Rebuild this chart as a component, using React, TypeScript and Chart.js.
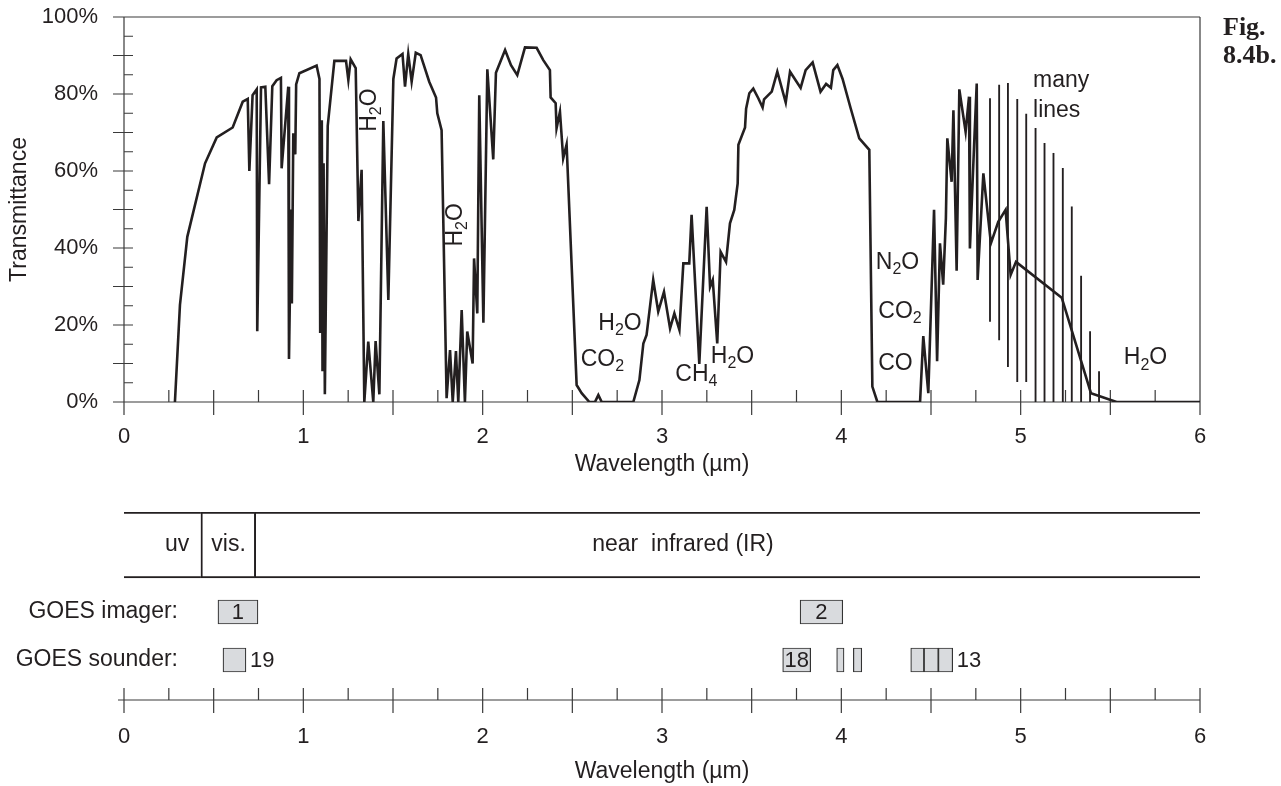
import React, { useEffect, useRef } from 'react';
import { Chart, registerables } from 'chart.js';

Chart.register(...registerables);

// ---------------- data ----------------
const WAVELENGTH_UM = [
  0.284, 0.312, 0.353, 0.452, 0.517, 0.606, 0.662, 0.69, 0.699, 0.717, 0.74, 0.743, 0.764, 0.788, 0.809, 0.827,
  0.851, 0.875, 0.879, 0.916, 0.92, 0.932, 0.936, 0.944, 0.955, 0.96, 0.978, 1.074, 1.09, 1.094, 1.103, 1.107,
  1.113, 1.12, 1.136, 1.173, 1.238, 1.251, 1.264, 1.292, 1.307, 1.325, 1.34, 1.362, 1.39, 1.403, 1.424, 1.446,
  1.474, 1.502, 1.52, 1.553, 1.567, 1.585, 1.604, 1.627, 1.654, 1.702, 1.74, 1.747, 1.771, 1.799, 1.818, 1.833,
  1.851, 1.864, 1.883, 1.901, 1.914, 1.944, 1.952, 1.97, 1.981, 2.004, 2.026, 2.059, 2.074, 2.125, 2.158, 2.193,
  2.236, 2.301, 2.338, 2.375, 2.379, 2.407, 2.412, 2.431, 2.449, 2.468, 2.524, 2.552, 2.595, 2.626, 2.645, 2.664,
  2.84, 2.874, 2.896, 2.914, 2.951, 2.979, 3.011, 3.045, 3.069, 3.097, 3.119, 3.152, 3.165, 3.208, 3.249, 3.268,
  3.283, 3.308, 3.327, 3.357, 3.379, 3.403, 3.422, 3.426, 3.463, 3.469, 3.487, 3.509, 3.537, 3.561, 3.569, 3.612,
  3.643, 3.69, 3.714, 3.773, 3.801, 3.84, 3.884, 3.915, 3.942, 3.955, 3.978, 4.007, 4.052, 4.1, 4.156, 4.173,
  4.201, 4.439, 4.457, 4.485, 4.517, 4.534, 4.55, 4.568, 4.583, 4.591, 4.615, 4.625, 4.643, 4.658, 4.693, 4.712,
  4.717, 4.74, 4.755, 4.76, 4.792, 4.834, 4.875, 4.916, 4.944, 4.974, 5.229, 5.392, 5.535, 6.0,
];
const TRANSMITTANCE_PCT = [
  0, 25.2, 42.9, 62, 68.7, 71.3, 78, 78.7, 60, 79.7, 81.2, 18.4, 81.7, 81.9, 56.6, 82,
  83.6, 84.2, 60.7, 81.9, 11.2, 50, 25.6, 69.8, 64.3, 82.5, 85.4, 87.4, 83.9, 17.9, 73.2, 8,
  62, 2, 71.7, 88.6, 88.6, 83.6, 89, 86.7, 47, 60.3, 0, 15.7, 0, 15.8, 2, 73,
  26.5, 83.9, 89.2, 90.4, 81.9, 90.4, 83.2, 90.7, 90.1, 83.2, 79.1, 75, 70.6, 1, 13.5, 0,
  13.2, 0, 23.9, 0, 18.3, 10, 37.3, 23, 79.7, 20.6, 86.4, 63, 85.5, 91.4, 87.5, 84.9,
  92.1, 92, 88.8, 86.2, 79.1, 77.6, 71.1, 75.4, 63.3, 66.9, 4.4, 2.3, 0, 0, 1.8, 0,
  0, 5.7, 15.2, 17.4, 31.7, 23.5, 28.6, 19.1, 23, 18.7, 36, 36, 48.6, 9.9, 50.7, 29.9,
  31.7, 15.2, 39, 36.4, 46.4, 49.9, 56.8, 66.8, 71.3, 76.2, 80.2, 81.4, 78.9, 76.5, 78.6, 80.6,
  85.8, 77.8, 85.8, 81.6, 86.2, 88.2, 80.6, 82.6, 81.6, 86.2, 87.5, 83.9, 76.3, 68.5, 65.5, 4,
  0, 0, 17.1, 2.3, 49.9, 10.6, 41.2, 30.5, 47.7, 68.5, 57.2, 75.8, 34.1, 81.2, 70.2, 79.3,
  39.9, 66.3, 82.7, 31.7, 59.4, 41.2, 46.8, 49.9, 33, 36.4, 27.1, 2.3, 0, 0,
];

// "many lines" absorption lines (thin vertical bars)
const LINE_UM = [4.829, 4.88, 4.929, 4.981, 5.031, 5.083, 5.133, 5.183, 5.235, 5.285, 5.337, 5.387, 5.437];
const LINE_TOP_PCT = [78.8, 82.3, 82.8, 78.6, 74.8, 71.1, 67.2, 64.6, 60.7, 50.7, 32.7, 18.3, 7.9];
const LINE_BOTTOM_PCT = [20.9, 16.1, 9.2, 5.3, 5.3, 0, 0, 0, 0, 0, 0, 0, 0];

const X_TICK_LABELS = ['0', '1', '2', '3', '4', '5', '6'];
const Y_TICK_LABELS = ['0%', '20%', '40%', '60%', '80%', '100%'];

// absorber labels ("_" marks a subscript digit)
const ABSORBER_TEXT = ['H_2O', 'H_2O', 'H_2O', 'CO_2', 'CH_4', 'H_2O', 'N_2O', 'CO_2', 'CO', 'H_2O'];
const ABSORBER_UM = [1.372, 1.849, 2.766, 2.668, 3.192, 3.393, 4.313, 4.327, 4.302, 5.696];
const ABSORBER_PCT = [75.8, 46, 20.4, 10.9, 7, 11.8, 36.1, 23.5, 10, 11.4];
const ABSORBER_VERTICAL = [true, true, false, false, false, false, false, false, false, false];

const NOTE_TEXT = ['many', 'lines'];
const NOTE_UM = [5.069, 5.069];
const NOTE_PCT = [83.5, 75.7];

const BAND_NAMES = ['uv', 'vis.', 'near  infrared (IR)'];
const BAND_FROM_UM = [0, 0.429, 0.727];
const BAND_TO_UM = [0.429, 0.727, 6];
const BAND_LABEL_UM = [0.296, 0.583, 3.117];

const ROW_LABELS = ['GOES imager:', 'GOES sounder:'];
const IMAGER_CHANNELS = ['1', '2'];
const IMAGER_FROM_UM = [0.524, 3.77];
const IMAGER_TO_UM = [0.747, 4.008];
const SOUNDER_CHANNELS = ['19', '18', '', '', '', '', '13'];
const SOUNDER_FROM_UM = [0.552, 3.673, 3.974, 4.067, 4.387, 4.461, 4.541];
const SOUNDER_TO_UM = [0.68, 3.829, 4.015, 4.114, 4.461, 4.541, 4.621];

// ---------------- layout / style ----------------
const INK = '#231f20';
const AXIS = '#3a3a3a';
const BOX_FILL = '#d9dbde';
const SANS = '"Liberation Sans", Arial, Helvetica, sans-serif';
const SERIF = '"Liberation Serif", "Times New Roman", serif';
const W = 1281;
const TOP_H = 490;
const BOTTOM_H = 296;
const ROW_POS = { bands: 33, imager: 100, sounder: 148 }; // px offsets below band-row top
const ROW_LABEL_RIGHT = 178;
const LABEL_SIZE = 23;
const TICK_SIZE = 22;

function drawChem(ctx: CanvasRenderingContext2D, text: string, x: number, y: number, align: 'center' | 'left', vertical: boolean) {
  const parts: { s: string; sub: boolean }[] = [];
  for (let i = 0; i < text.length; i++) {
    if (text[i] === '_' && i + 1 < text.length) {
      parts.push({ s: text[i + 1], sub: true });
      i++;
    } else {
      const last = parts[parts.length - 1];
      if (last && !last.sub) last.s += text[i];
      else parts.push({ s: text[i], sub: false });
    }
  }
  const main = `${LABEL_SIZE}px ${SANS}`;
  const sub = `16px ${SANS}`;
  ctx.save();
  ctx.translate(x, y);
  if (vertical) ctx.rotate(-Math.PI / 2);
  ctx.textBaseline = 'middle';
  ctx.textAlign = 'left';
  ctx.fillStyle = INK;
  let w = 0;
  for (const p of parts) {
    ctx.font = p.sub ? sub : main;
    w += ctx.measureText(p.s).width;
  }
  let cx = align === 'center' ? -w / 2 : 0;
  for (const p of parts) {
    ctx.font = p.sub ? sub : main;
    ctx.fillText(p.s, cx, p.sub ? 7 : 0);
    cx += ctx.measureText(p.s).width;
  }
  ctx.restore();
}

function drawAxisTicks(ctx: CanvasRenderingContext2D, xs: any, yLine: number, left: number, right: number) {
  for (let i = 0; i <= 24; i++) {
    const px = xs.getPixelForValue(i * 0.25);
    ctx.moveTo(px, yLine - 12);
    ctx.lineTo(px, i % 2 === 0 ? yLine + 13 : yLine);
  }
  ctx.moveTo(left, yLine);
  ctx.lineTo(right, yLine);
}

const topFrame = {
  id: 'topFrame',
  beforeDatasetsDraw(chart: any) {
    const { ctx, chartArea: a, scales } = chart;
    const xs = scales.x;
    const ys = scales.y;
    ctx.save();
    ctx.strokeStyle = AXIS;
    ctx.lineWidth = 1.2;
    ctx.beginPath();
    ctx.moveTo(a.left, a.top);
    ctx.lineTo(a.right, a.top);
    ctx.moveTo(a.left, a.top);
    ctx.lineTo(a.left, a.bottom + 13);
    ctx.moveTo(a.right, a.top);
    ctx.lineTo(a.right, a.bottom + 13);
    drawAxisTicks(ctx, xs, a.bottom, a.left, a.right);
    for (let i = 0; i <= 20; i++) {
      const py = ys.getPixelForValue(i * 5);
      ctx.moveTo(i % 2 === 0 ? a.left - 11 : a.left, py);
      ctx.lineTo(a.left + 9, py);
    }
    ctx.stroke();
    ctx.restore();
  },
  afterDraw(chart: any) {
    const { ctx, scales } = chart;
    const xs = scales.x;
    const ys = scales.y;
    ABSORBER_TEXT.forEach((t, i) => {
      drawChem(ctx, t, xs.getPixelForValue(ABSORBER_UM[i]), ys.getPixelForValue(ABSORBER_PCT[i]), 'center', ABSORBER_VERTICAL[i]);
    });
    ctx.save();
    ctx.fillStyle = INK;
    ctx.font = `${LABEL_SIZE}px ${SANS}`;
    ctx.textBaseline = 'middle';
    ctx.textAlign = 'left';
    NOTE_TEXT.forEach((t, i) => {
      ctx.fillText(t, xs.getPixelForValue(NOTE_UM[i]), ys.getPixelForValue(NOTE_PCT[i]));
    });
    ctx.font = `bold 26px ${SERIF}`;
    ctx.textBaseline = 'alphabetic';
    ctx.fillText('Fig.', 1223, 35);
    ctx.fillText('8.4b.', 1223, 63);
    ctx.restore();
  },
};

const bottomFrame = {
  id: 'bottomFrame',
  beforeDatasetsDraw(chart: any) {
    const { ctx, chartArea: a, scales } = chart;
    ctx.save();
    ctx.strokeStyle = AXIS;
    ctx.lineWidth = 1.2;
    ctx.beginPath();
    drawAxisTicks(ctx, scales.x, a.bottom, a.left - 6, a.right);
    ctx.stroke();
    ctx.restore();
  },
  afterDatasetsDraw(chart: any) {
    const { ctx, scales } = chart;
    const xs = scales.x;
    const ys = scales.y;
    ctx.save();
    ctx.fillStyle = INK;
    ctx.textBaseline = 'middle';
    ctx.font = `${LABEL_SIZE}px ${SANS}`;
    ctx.textAlign = 'center';
    BAND_NAMES.forEach((n, i) => {
      ctx.fillText(n, xs.getPixelForValue(BAND_LABEL_UM[i]), ys.getPixelForValue(ROW_POS.bands));
    });
    ctx.textAlign = 'right';
    ctx.fillText(ROW_LABELS[0], ROW_LABEL_RIGHT, ys.getPixelForValue(ROW_POS.imager));
    ctx.fillText(ROW_LABELS[1], ROW_LABEL_RIGHT, ys.getPixelForValue(ROW_POS.sounder));
    ctx.font = `${TICK_SIZE}px ${SANS}`;
    const put = (labels: string[], from: number[], to: number[], row: number) => {
      labels.forEach((l, i) => {
        if (!l) return;
        const x0 = xs.getPixelForValue(from[i]);
        const x1 = xs.getPixelForValue(to[i]);
        const tw = ctx.measureText(l).width;
        const y = ys.getPixelForValue(row) + 1;
        if (tw + 3 <= x1 - x0) {
          ctx.textAlign = 'center';
          ctx.fillText(l, (x0 + x1) / 2, y);
        } else {
          ctx.textAlign = 'left';
          ctx.fillText(l, x1 + 4, y);
        }
      });
    };
    put(IMAGER_CHANNELS, IMAGER_FROM_UM, IMAGER_TO_UM, ROW_POS.imager);
    put(SOUNDER_CHANNELS, SOUNDER_FROM_UM, SOUNDER_TO_UM, ROW_POS.sounder);
    ctx.restore();
  },
};

export default function App() {
  const topRef = useRef<HTMLCanvasElement>(null);
  const bottomRef = useRef<HTMLCanvasElement>(null);

  useEffect(() => {
    const tickFont = { family: SANS, size: TICK_SIZE };
    const titleFont = { family: SANS, size: LABEL_SIZE };

    const top = new Chart(topRef.current as HTMLCanvasElement, {
      type: 'line',
      data: {
        datasets: [
          {
            type: 'line',
            data: WAVELENGTH_UM.map((x, i) => ({ x, y: TRANSMITTANCE_PCT[i] })),
            borderColor: INK,
            borderWidth: 2.6,
            borderJoinStyle: 'miter',
            pointRadius: 0,
            tension: 0,
            fill: false,
            order: 1,
          } as any,
          {
            type: 'bar',
            data: LINE_UM.map((x, i) => ({ x, y: [LINE_BOTTOM_PCT[i], LINE_TOP_PCT[i]] })),
            backgroundColor: INK,
            borderWidth: 0,
            barThickness: 1.2,
            grouped: false,
            order: 2,
          } as any,
        ],
      },
      options: {
        animation: false,
        responsive: false,
        events: [],
        layout: { padding: { left: 0, right: W - 1200, top: 17, bottom: 0 } },
        plugins: { legend: { display: false }, tooltip: { enabled: false } },
        scales: {
          x: {
            type: 'linear',
            min: 0,
            max: 6,
            offset: false,
            grid: { display: false, drawTicks: false },
            border: { display: false },
            ticks: {
              stepSize: 1,
              padding: 22,
              maxRotation: 0,
              font: tickFont,
              color: INK,
              callback: (v: any) => X_TICK_LABELS[Math.round(Number(v))],
            },
            title: { display: true, text: 'Wavelength (µm)', font: titleFont, color: INK, padding: { top: 0, bottom: 12 } },
            afterFit: (s: any) => {
              s.height = TOP_H - 402;
              s.paddingLeft = 0;
              s.paddingRight = 0;
            },
          },
          y: {
            type: 'linear',
            min: 0,
            max: 100,
            grid: { display: false, drawTicks: false },
            border: { display: false },
            ticks: {
              stepSize: 20,
              padding: 26,
              font: tickFont,
              color: INK,
              callback: (v: any) => Y_TICK_LABELS[Math.round(Number(v) / 20)],
            },
            title: { display: true, text: 'Transmittance', font: titleFont, color: INK, padding: { top: 6, bottom: 0 } },
            afterFit: (s: any) => {
              s.width = 124;
              s.paddingTop = 0;
              s.paddingBottom = 0;
            },
          },
        },
      } as any,
      plugins: [topFrame],
    });

    const bandBorders = [
      { top: 1.3, bottom: 1.3, left: 0, right: 0 },
      { top: 1.3, bottom: 1.3, left: 1.3, right: 0 },
      { top: 1.3, bottom: 1.3, left: 1.3, right: 0 },
    ];

    const bottom = new Chart(bottomRef.current as HTMLCanvasElement, {
      type: 'bar',
      data: {
        datasets: [
          {
            data: BAND_FROM_UM.map((f, i) => ({ x: [f, BAND_TO_UM[i]], y: ROW_POS.bands })),
            backgroundColor: 'rgba(0,0,0,0)',
            borderColor: INK,
            borderWidth: (c: any) => bandBorders[c.dataIndex],
            borderSkipped: false,
            barThickness: 66,
            grouped: false,
          } as any,
          {
            data: IMAGER_FROM_UM.map((f, i) => ({ x: [f, IMAGER_TO_UM[i]], y: ROW_POS.imager })),
            backgroundColor: BOX_FILL,
            borderColor: '#333333',
            borderWidth: 1.2,
            borderSkipped: false,
            barThickness: 24,
            grouped: false,
          } as any,
          {
            data: SOUNDER_FROM_UM.map((f, i) => ({ x: [f, SOUNDER_TO_UM[i]], y: ROW_POS.sounder })),
            backgroundColor: BOX_FILL,
            borderColor: '#333333',
            borderWidth: 1.2,
            borderSkipped: false,
            barThickness: 24,
            grouped: false,
          } as any,
        ],
      },
      options: {
        indexAxis: 'y',
        animation: false,
        responsive: false,
        events: [],
        layout: { padding: { left: 124, right: W - 1200, top: 22, bottom: 0 } },
        plugins: { legend: { display: false }, tooltip: { enabled: false } },
        scales: {
          x: {
            type: 'linear',
            position: 'bottom',
            min: 0,
            max: 6,
            offset: false,
            grid: { display: false, drawTicks: false },
            border: { display: false },
            ticks: {
              stepSize: 1,
              padding: 24,
              maxRotation: 0,
              font: tickFont,
              color: INK,
              callback: (v: any) => X_TICK_LABELS[Math.round(Number(v))],
            },
            title: { display: true, text: 'Wavelength (µm)', font: titleFont, color: INK, padding: { top: 0, bottom: 1 } },
            afterFit: (s: any) => {
              s.height = BOTTOM_H - 210;
              s.paddingLeft = 0;
              s.paddingRight = 0;
            },
          },
          y: {
            type: 'linear',
            min: 0,
            max: 188,
            reverse: true,
            display: false,
            offset: false,
          },
        },
      } as any,
      plugins: [bottomFrame],
    });

    return () => {
      top.destroy();
      bottom.destroy();
    };
  }, []);

  return (
    <div style={{ position: 'absolute', left: 0, top: 0, width: W, height: TOP_H + BOTTOM_H, background: '#ffffff' }}>
      <canvas ref={topRef} width={W} height={TOP_H} style={{ position: 'absolute', left: 0, top: 0, width: W, height: TOP_H }} />
      <canvas ref={bottomRef} width={W} height={BOTTOM_H} style={{ position: 'absolute', left: 0, top: TOP_H, width: W, height: BOTTOM_H }} />
    </div>
  );
}
